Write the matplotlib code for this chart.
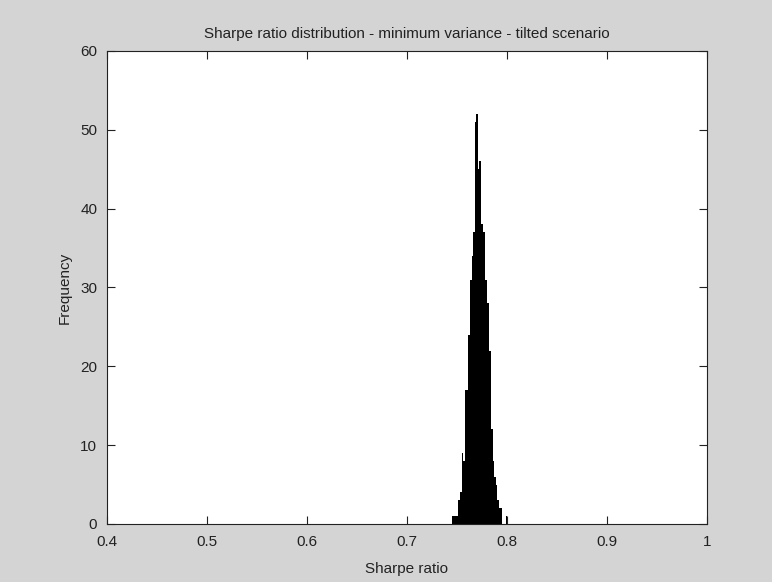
import matplotlib
matplotlib.use("Agg")
import matplotlib.pyplot as plt
import numpy as np

plt.rcParams['font.family'] = ['Liberation Sans', 'DejaVu Sans']

# histogram counts, one bin per 0.001 starting at 0.745
counts = [1, 1, 1, 1, 1, 1,          # 0.745 - 0.750
          3, 3, 4, 4,                # 0.751 - 0.754
          9, 8, 8,                   # 0.755 - 0.757
          17, 17, 17,                # 0.758 - 0.760
          24, 24, 31, 31, 34,        # 0.761 - 0.765
          37, 37, 51, 52, 52,        # 0.766 - 0.770
          45, 46, 46, 38, 38,        # 0.771 - 0.775
          37, 37, 31, 31, 28,        # 0.776 - 0.780
          28, 22, 22, 12, 12,        # 0.781 - 0.785
          8, 6, 6, 5, 3,             # 0.786 - 0.790
          3, 2, 2, 2, 0,             # 0.791 - 0.795
          0, 0, 0, 1]                # 0.796 - 0.799
bin_start = 0.745
bin_width = 0.001
bin_left = bin_start + bin_width * np.arange(len(counts))

fig = plt.figure(figsize=(7.72, 5.82), dpi=100)
fig.patch.set_facecolor('#d4d4d4')
ax = fig.add_axes([0.1386, 0.0997, 0.777, 0.8127])
ax.set_facecolor('white')

ax.bar(bin_left, counts, width=bin_width, align='edge', color='black', linewidth=0)

ax.set_xlim(0.4, 1)
ax.set_ylim(0, 60)
ax.set_xticks([0.4, 0.5, 0.6, 0.7, 0.8, 0.9, 1])
ax.set_xticklabels(['0.4', '0.5', '0.6', '0.7', '0.8', '0.9', '1'])
ax.set_yticks(range(0, 61, 10))
ax.tick_params(direction='in', length=6, width=0.8, top=True, right=True,
               labelsize=11, colors='#222222')
ax.tick_params(axis='x', pad=8)
ax.tick_params(axis='y', pad=7)
for s in ax.spines.values():
    s.set_linewidth(0.8)
    s.set_color('#222222')

ax.set_title('Sharpe ratio distribution - minimum variance - tilted scenario',
             fontsize=11, pad=9, color='#222222')
ax.set_xlabel('Sharpe ratio', fontsize=11, labelpad=9, color='#222222')
ax.set_ylabel('Frequency', fontsize=11, labelpad=6, color='#222222')

fig.savefig('out.png', dpi=100, facecolor=fig.get_facecolor())
